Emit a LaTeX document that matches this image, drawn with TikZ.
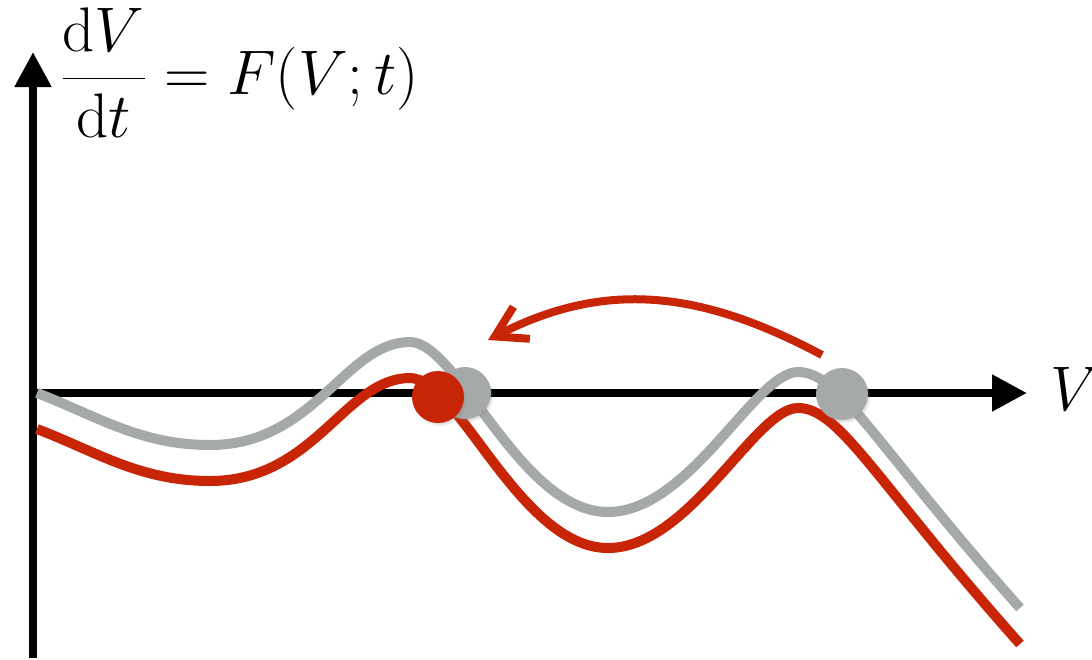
\RequirePackage{fix-cm}
\documentclass[tikz,border=0pt]{standalone}
\usetikzlibrary{arrows.meta,shadows}
\definecolor{cred}{RGB}{200,36,6}
\definecolor{cgray}{RGB}{165,169,167}
\begin{document}
\begin{tikzpicture}[x=0.5pt,y=-0.5pt,
  axis/.style={line width=4pt, -{Triangle[length=17.5pt,width=17.5pt]}},
  gcurve/.style={line width=5pt, cgray},
  rcurve/.style={line width=5pt, cred},
  dot/.style={circle, minimum size=26pt, inner sep=0pt,
    circular drop shadow={shadow xshift=0.8pt, shadow yshift=-1.2pt, shadow scale=1.04, opacity=0.3}},
  jump/.style={line width=4pt, cred, -{Straight Barb[length=15pt,width=18pt]}},
  lab/.style={inner sep=0pt, font=\fontsize{31.5}{38}\selectfont}]
\useasboundingbox (0,0) rectangle (1092,659);
% axes
\coordinate (ybot) at (33,658);
\coordinate (ytop) at (33,52);
\coordinate (xl) at (29,393);
\coordinate (xr) at (1027,393);
\draw[axis] (ybot) -- (ytop);
\draw[axis] (xl) -- (xr);
% labels
\node[lab, anchor=base west] (eq) at (60,94) {$\displaystyle\frac{\mathrm{d}V}{\mathrm{d}t} = F(V;t)$};
\node[lab, anchor=base west] (vlab) at (1050,410) {$V$};
% gray curve
\draw[gcurve] (37,393) .. controls (97,416) and (140,445) .. (210,445)
  .. controls (315,445) and (345,342) .. (410,342)
  .. controls (458,342) and (520,512) .. (608,512)
  .. controls (690,512) and (755,372) .. (798,372)
  .. controls (840,372) and (875,445) .. (1020,608);
% red curve (shifted copy)
\begin{scope}[shift={(0,36)}]
\draw[rcurve] (37,393) .. controls (97,416) and (140,445) .. (210,445)
  .. controls (315,445) and (345,342) .. (410,342)
  .. controls (458,342) and (520,512) .. (608,512)
  .. controls (690,512) and (755,372) .. (798,372)
  .. controls (840,372) and (875,445) .. (1020,608);
\end{scope}
% jump arrow
\coordinate (as) at (822,355);
\coordinate (ae) at (488,340);
\draw[jump] (as) .. controls (700,290) and (605,280) .. (ae);
% fixed points
\node[dot, fill=cgray] (g1) at (465,393) {};
\node[dot, fill=cgray] (g2) at (842,394) {};
\node[dot, fill=cred] (r1) at (438,397) {};
\end{tikzpicture}
\end{document}
